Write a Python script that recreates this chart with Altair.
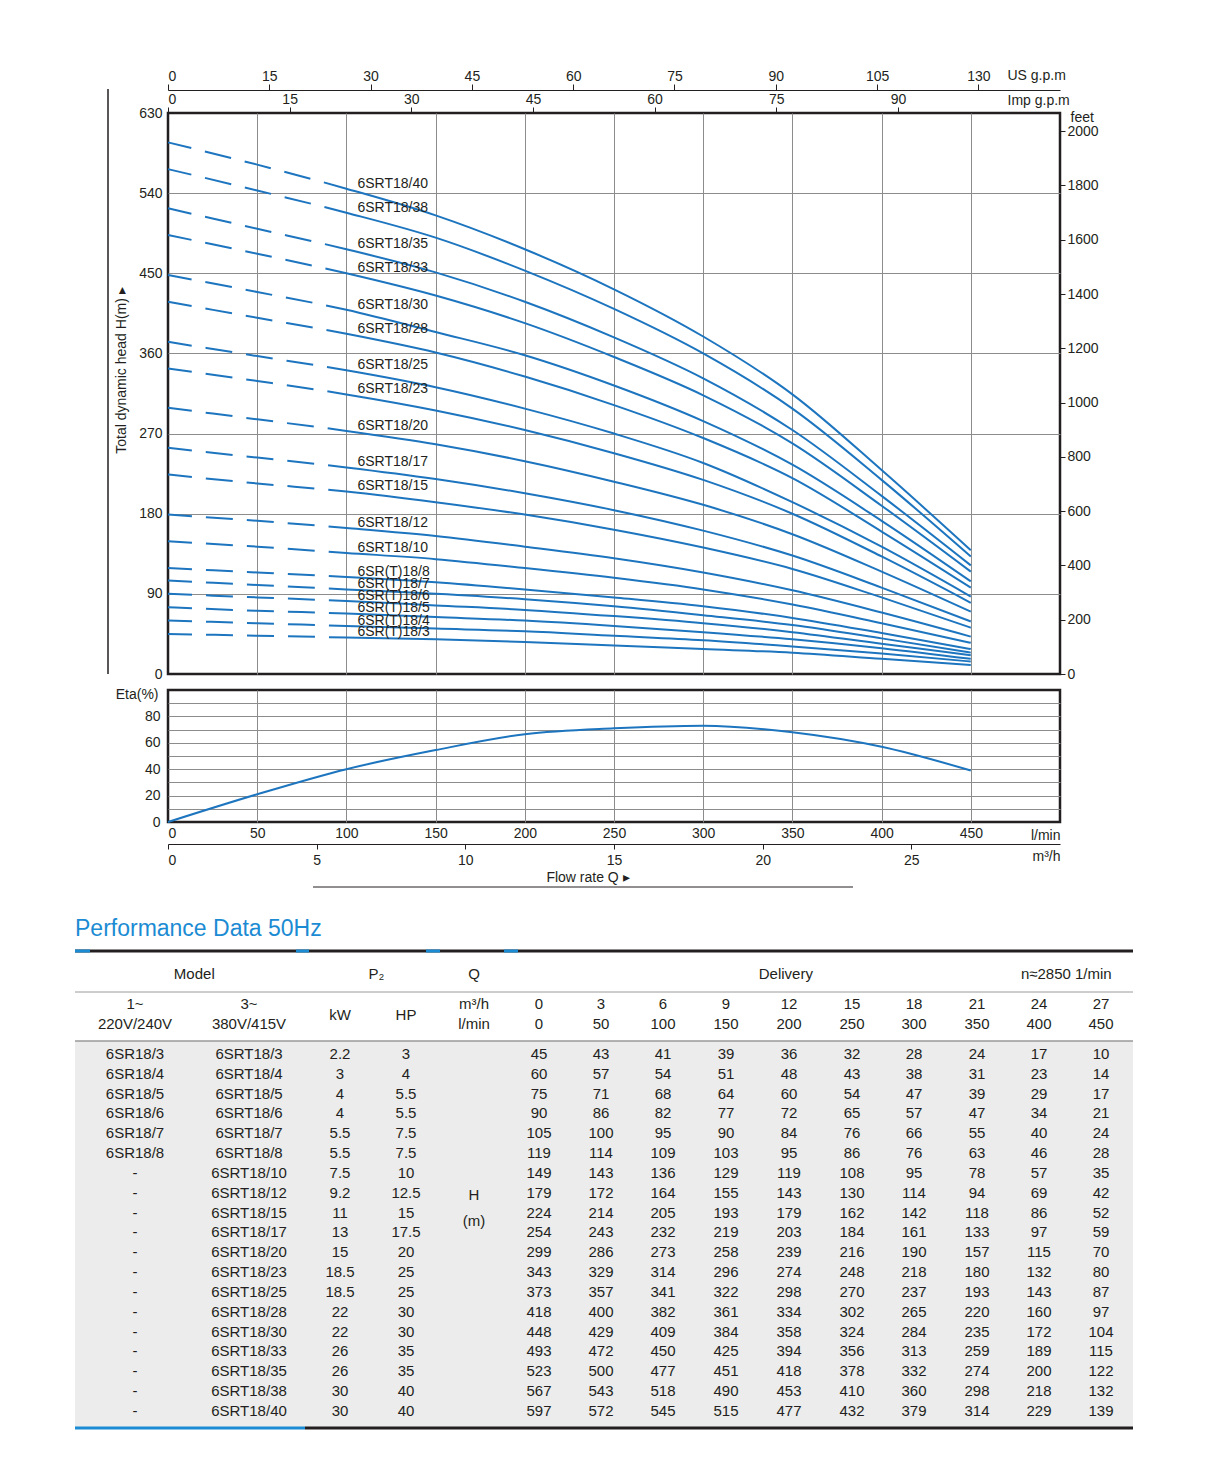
import altair as alt
import pandas as pd

# ---------------- data ----------------
Q_LMIN = [0, 50, 100, 150, 200, 250, 300, 350, 400, 450]
Q_M3H = [0, 3, 6, 9, 12, 15, 18, 21, 24, 27]

MODEL_1PH = ["6SR18/3", "6SR18/4", "6SR18/5", "6SR18/6", "6SR18/7", "6SR18/8"] + ["-"] * 13
MODEL_3PH = ["6SRT18/3", "6SRT18/4", "6SRT18/5", "6SRT18/6", "6SRT18/7", "6SRT18/8",
             "6SRT18/10", "6SRT18/12", "6SRT18/15", "6SRT18/17", "6SRT18/20", "6SRT18/23",
             "6SRT18/25", "6SRT18/28", "6SRT18/30", "6SRT18/33", "6SRT18/35", "6SRT18/38",
             "6SRT18/40"]
P2_KW = ["2.2", "3", "4", "4", "5.5", "5.5", "7.5", "9.2", "11", "13", "15", "18.5", "18.5",
         "22", "22", "26", "26", "30", "30"]
P2_HP = ["3", "4", "5.5", "5.5", "7.5", "7.5", "10", "12.5", "15", "17.5", "20", "25", "25",
         "30", "30", "35", "35", "40", "40"]
HEAD = [
    [45, 43, 41, 39, 36, 32, 28, 24, 17, 10],
    [60, 57, 54, 51, 48, 43, 38, 31, 23, 14],
    [75, 71, 68, 64, 60, 54, 47, 39, 29, 17],
    [90, 86, 82, 77, 72, 65, 57, 47, 34, 21],
    [105, 100, 95, 90, 84, 76, 66, 55, 40, 24],
    [119, 114, 109, 103, 95, 86, 76, 63, 46, 28],
    [149, 143, 136, 129, 119, 108, 95, 78, 57, 35],
    [179, 172, 164, 155, 143, 130, 114, 94, 69, 42],
    [224, 214, 205, 193, 179, 162, 142, 118, 86, 52],
    [254, 243, 232, 219, 203, 184, 161, 133, 97, 59],
    [299, 286, 273, 258, 239, 216, 190, 157, 115, 70],
    [343, 329, 314, 296, 274, 248, 218, 180, 132, 80],
    [373, 357, 341, 322, 298, 270, 237, 193, 143, 87],
    [418, 400, 382, 361, 334, 302, 265, 220, 160, 97],
    [448, 429, 409, 384, 358, 324, 284, 235, 172, 104],
    [493, 472, 450, 425, 394, 356, 313, 259, 189, 115],
    [523, 500, 477, 451, 418, 378, 332, 274, 200, 122],
    [567, 543, 518, 490, 453, 410, 360, 298, 218, 132],
    [597, 572, 545, 515, 477, 432, 379, 314, 229, 139],
]
CURVE_LABELS = ["6SR(T)18/3", "6SR(T)18/4", "6SR(T)18/5", "6SR(T)18/6", "6SR(T)18/7",
                "6SR(T)18/8", "6SRT18/10", "6SRT18/12", "6SRT18/15", "6SRT18/17",
                "6SRT18/20", "6SRT18/23", "6SRT18/25", "6SRT18/28", "6SRT18/30",
                "6SRT18/33", "6SRT18/35", "6SRT18/38", "6SRT18/40"]
ETA = [0, 21, 40, 54.5, 66.5, 71, 73, 68, 57, 39]

H_TICKS = [0, 90, 180, 270, 360, 450, 540, 630]
FEET_TICKS = [0, 200, 400, 600, 800, 1000, 1200, 1400, 1600, 1800, 2000]
US_GPM_TICKS = [0, 15, 30, 45, 60, 75, 90, 105, 120]
US_GPM_LABELS = ["0", "15", "30", "45", "60", "75", "90", "105", "130"]
IMP_GPM_TICKS = [0, 15, 30, 45, 60, 75, 90]
M3H_TICKS = [0, 5, 10, 15, 20, 25]
ETA_GRID = [0, 10, 20, 30, 40, 50, 60, 70, 80, 90, 100]
ETA_TICKS = [0, 20, 40, 60, 80]

# ---------------- style ----------------
INK = "#231f20"
BLUE = "#1d75bf"
TITLE_BLUE = "#1b8bd3"
GRID = "#8c8c8c"
FONT = "Liberation Sans"
PLOT_W, PLOT_H, ETA_H = 892, 561, 132
Q_MAX, H_MAX = 500, 630
FT_PER_M = 1 / 0.3048
L_PER_USGAL = 3.785411784
L_PER_IMPGAL = 4.54609

one = pd.DataFrame({"k": [0]})


def edge_grid(test):
    return {"condition": {"test": test, "value": "transparent"}, "value": GRID}


def xs():
    return alt.Scale(domain=[0, Q_MAX], nice=False, zero=True)


def ys():
    return alt.Scale(domain=[0, H_MAX], nice=False, zero=True)


# ---------------- main head chart ----------------
curve_rows = []
for lab, heads in zip(CURVE_LABELS, HEAD):
    for q, h in zip(Q_LMIN, heads):
        curve_rows.append({"model": lab, "Q": q, "H": h})
curve_df = pd.DataFrame(curve_rows)
label_df = pd.DataFrame({"label": CURVE_LABELS, "Q": [Q_LMIN[2]] * len(HEAD),
                         "H": [h[2] for h in HEAD]})

curves = alt.Chart(curve_df).mark_line(
    color=BLUE, strokeWidth=2, interpolate="monotone",
    strokeDash=[24, 14, 27, 14, 27, 14, 27, 14, 6000, 0]
).encode(
    x=alt.X("Q:Q", scale=xs(),
            axis=alt.Axis(values=Q_LMIN[1:], labels=False, ticks=False, domain=False,
                          grid=True, title=None)),
    y=alt.Y("H:Q", scale=ys(),
            axis=alt.Axis(values=H_TICKS, grid=True, ticks=False, domain=False,
                          labelPadding=6,
                          gridColor=edge_grid("datum.value == 0 || datum.value >= 630"),
                          title="Total dynamic head H(m)    \u25b8", titleAngle=270,
                          titleX=-40, titleY=257, titleAlign="center",
                          titleBaseline="bottom")),
    detail="model:N",
)

labels = alt.Chart(label_df).mark_text(
    align="left", baseline="alphabetic", dx=11, dy=-1, font=FONT, fontSize=14, color=INK
).encode(
    x=alt.X("Q:Q", scale=xs(), axis=None),
    y=alt.Y("H:Q", scale=ys(), axis=None),
    text="label:N",
)

left_rule = alt.Chart(one).mark_rule(color=INK, strokeWidth=1.5).encode(
    x=alt.value(-60), y=alt.value(-24), y2=alt.value(PLOT_H)
)

feet_df = pd.DataFrame({"ft": FEET_TICKS})
feet = alt.Chart(feet_df).mark_point(opacity=0).encode(
    x=alt.X("ft:Q", axis=None),
    y=alt.Y("ft:Q", scale=alt.Scale(domain=[0, H_MAX * FT_PER_M], nice=False),
            axis=alt.Axis(orient="right", values=FEET_TICKS, format="d", grid=False,
                          domain=False, tickSize=5, labelPadding=2, title="feet",
                          titleAngle=0, titleX=10, titleY=4, titleAlign="left",
                          titleBaseline="middle")),
)

us_expr = ("[" + ",".join("'%s'" % s for s in US_GPM_LABELS) + "][indexof(["
           + ",".join(str(v) for v in US_GPM_TICKS) + "], datum.value)]")
us = alt.Chart(pd.DataFrame({"g": US_GPM_TICKS})).mark_point(opacity=0).encode(
    x=alt.X("g:Q", scale=alt.Scale(domain=[0, Q_MAX / L_PER_USGAL], nice=False),
            axis=alt.Axis(orient="top", offset=23, values=US_GPM_TICKS, labelExpr=us_expr,
                          grid=False, domain=True, domainWidth=1.2, tickSize=6,
                          labelPadding=1, title="US g.p.m", titleX=839, titleY=-15,
                          titleAlign="left", titleBaseline="middle")),
    y=alt.Y("g:Q", axis=None),
)
imp = alt.Chart(pd.DataFrame({"g": IMP_GPM_TICKS})).mark_point(opacity=0).encode(
    x=alt.X("g:Q", scale=alt.Scale(domain=[0, Q_MAX / L_PER_IMPGAL], nice=False),
            axis=alt.Axis(orient="top", offset=0, values=IMP_GPM_TICKS, grid=False,
                          domain=False, tickSize=6, labelPadding=1, title="Imp g.p.m",
                          titleX=839, titleY=-13, titleAlign="left",
                          titleBaseline="middle")),
    y=alt.Y("g:Q", axis=None),
)

main = alt.layer(
    curves, labels, left_rule, feet, us, imp
).resolve_scale(x="independent", y="independent").properties(
    width=PLOT_W, height=PLOT_H,
)

# ---------------- efficiency chart ----------------
eta_df = pd.DataFrame({"Q": Q_LMIN, "eta": ETA})
eta_expr = ("indexof([" + ",".join(str(v) for v in ETA_TICKS)
            + "], datum.value) >= 0 ? datum.label : ''")


def etas():
    return alt.Scale(domain=[0, 100], nice=False, zero=True)


eta_line = alt.Chart(eta_df).mark_line(color=BLUE, strokeWidth=2, interpolate="monotone").encode(
    x=alt.X("Q:Q", scale=xs(),
            axis=alt.Axis(values=Q_LMIN, grid=True, ticks=False, domain=False,
                          labelPadding=4,
                          gridColor=edge_grid("datum.value == 0"),
                          title="l/min", titleX=PLOT_W, titleY=13, titleAlign="right",
                          titleBaseline="middle")),
    y=alt.Y("eta:Q", scale=etas(),
            axis=alt.Axis(values=ETA_GRID, labelExpr=eta_expr, grid=True, ticks=False,
                          domain=False, labelPadding=8,
                          gridColor=edge_grid("datum.value == 0 || datum.value >= 100"),
                          title="Eta(%)", titleAngle=0, titleX=-10, titleY=4,
                          titleAlign="right", titleBaseline="middle")),
)
m3h = alt.Chart(pd.DataFrame({"m": M3H_TICKS})).mark_point(opacity=0).encode(
    x=alt.X("m:Q", scale=alt.Scale(domain=[0, Q_MAX * 60 / 1000], nice=False),
            axis=alt.Axis(orient="bottom", offset=22, values=M3H_TICKS, grid=False,
                          domain=True, domainWidth=1.2, tickSize=5, labelPadding=4,
                          title="m\u00b3/h", titleX=PLOT_W, titleY=12, titleAlign="right",
                          titleBaseline="middle")),
    y=alt.Y("m:Q", scale=etas(), axis=None),
)
flow_text = alt.Chart(one).mark_text(
    text="Flow rate Q  \u25b8", font=FONT, fontSize=14, color=INK, align="center",
    baseline="middle"
).encode(x=alt.value(420), y=alt.value(188))
flow_rule = alt.Chart(one).mark_rule(color=INK, strokeWidth=1).encode(
    x=alt.value(145), x2=alt.value(685), y=alt.value(197)
)

eta = alt.layer(eta_line, m3h, flow_text, flow_rule).resolve_scale(
    x="independent", y="independent"
).properties(width=PLOT_W, height=ETA_H)

# ---------------- performance table ----------------
ORIGIN_X, ORIGIN_Y = 168, 892
ROW0_Y, ROW_H = 1053, 19.83
TABLE_L, TABLE_R = 75, 1133
TABLE_BOTTOM = 1432
TABLE_H = TABLE_BOTTOM - ORIGIN_Y
COL_CENTERS = [135, 249, 340, 406, 474, 539, 601, 663, 726, 789, 852, 914, 977, 1039, 1101]

body = []
for i in range(len(HEAD)):
    for c, t in enumerate([MODEL_1PH[i], MODEL_3PH[i], P2_KW[i], P2_HP[i]]):
        body.append({"col": c, "row": i, "text": t})
    for j, h in enumerate(HEAD[i]):
        body.append({"col": 5 + j, "row": i, "text": str(h)})
body_df = pd.DataFrame(body)

header = [("Model", 0.52, -4.03), ("P\u2082", 2.55, -4.03), ("Q", 4, -4.03),
          ("Delivery", 8.95, -4.03), ("n\u22482850 1/min", 13.44, -4.03),
          ("1~", 0, -2.52), ("220V/240V", 0, -1.51), ("3~", 1, -2.52),
          ("380V/415V", 1, -1.51), ("kW", 2, -1.97), ("HP", 3, -1.97),
          ("m\u00b3/h", 4, -2.52), ("l/min", 4, -1.51), ("H", 4, 7.1), ("(m)", 4, 8.4)]
for j, (a, b) in enumerate(zip(Q_M3H, Q_LMIN)):
    header.append((str(a), 5 + j, -2.52))
    header.append((str(b), 5 + j, -1.51))
header_df = pd.DataFrame(header, columns=["text", "col", "row"])


def tx():
    return alt.X("col:Q", scale=alt.Scale(domain=list(range(len(COL_CENTERS))),
                                          range=[c - ORIGIN_X for c in COL_CENTERS],
                                          nice=False, zero=False), axis=None)


def ty():
    return alt.Y("row:Q", scale=alt.Scale(domain=[(ORIGIN_Y - ROW0_Y) / ROW_H,
                                                  (TABLE_BOTTOM - ROW0_Y) / ROW_H],
                                          reverse=True, nice=False, zero=False), axis=None)


bg = alt.Chart(one).mark_rect(color="#ececec").encode(
    x=alt.value(TABLE_L - ORIGIN_X), x2=alt.value(TABLE_R - ORIGIN_X),
    y=alt.value(1040 - ORIGIN_Y), y2=alt.value(1426 - ORIGIN_Y))


def hrule(x0, x1, y, color, w):
    return alt.Chart(one).mark_rule(color=color, strokeWidth=w).encode(
        x=alt.value(x0 - ORIGIN_X), x2=alt.value(x1 - ORIGIN_X), y=alt.value(y - ORIGIN_Y))


rules = [
    hrule(TABLE_L, TABLE_R, 950, INK, 3),
    hrule(75, 90, 950, TITLE_BLUE, 3),
    hrule(296, 309, 950, TITLE_BLUE, 3),
    hrule(426, 440, 950, TITLE_BLUE, 3),
    hrule(504, 518, 950, TITLE_BLUE, 3),
    hrule(TABLE_L, TABLE_R, 991, "#9a9a9a", 1),
    hrule(TABLE_L, TABLE_R, 1040, "#9a9a9a", 1.5),
    hrule(TABLE_L, 305, 1427, TITLE_BLUE, 3),
    hrule(305, TABLE_R, 1427, INK, 3),
]

table_title = alt.Chart(one).mark_text(
    text="Performance Data 50Hz", font=FONT, fontSize=23, color=TITLE_BLUE,
    align="left", baseline="middle"
).encode(x=alt.value(TABLE_L - ORIGIN_X), y=alt.value(928 - ORIGIN_Y))

header_text = alt.Chart(header_df).mark_text(
    font=FONT, fontSize=15, color=INK, align="center", baseline="middle"
).encode(x=tx(), y=ty(), text="text:N")
body_text = alt.Chart(body_df).mark_text(
    font=FONT, fontSize=15, color=INK, align="center", baseline="middle"
).encode(x=tx(), y=ty(), text="text:N")

table = alt.layer(bg, *rules, table_title, header_text, body_text).properties(
    width=PLOT_W, height=TABLE_H,
    view=alt.ViewBackground(stroke="transparent"),
)

chart = alt.vconcat(main, eta, table, spacing=2).properties(
    padding={"left": 64, "top": 58, "right": 5, "bottom": 5}
).configure_view(
    stroke=INK, strokeWidth=2.5
).configure_axis(
    labelFont=FONT, labelFontSize=14, labelColor=INK, titleFont=FONT, titleFontSize=14,
    titleColor=INK, titleFontWeight="normal", tickColor=INK, domainColor=INK,
    gridColor=GRID, gridWidth=1
)

chart.save("out.html", embed_options={"renderer": "svg", "actions": False})
